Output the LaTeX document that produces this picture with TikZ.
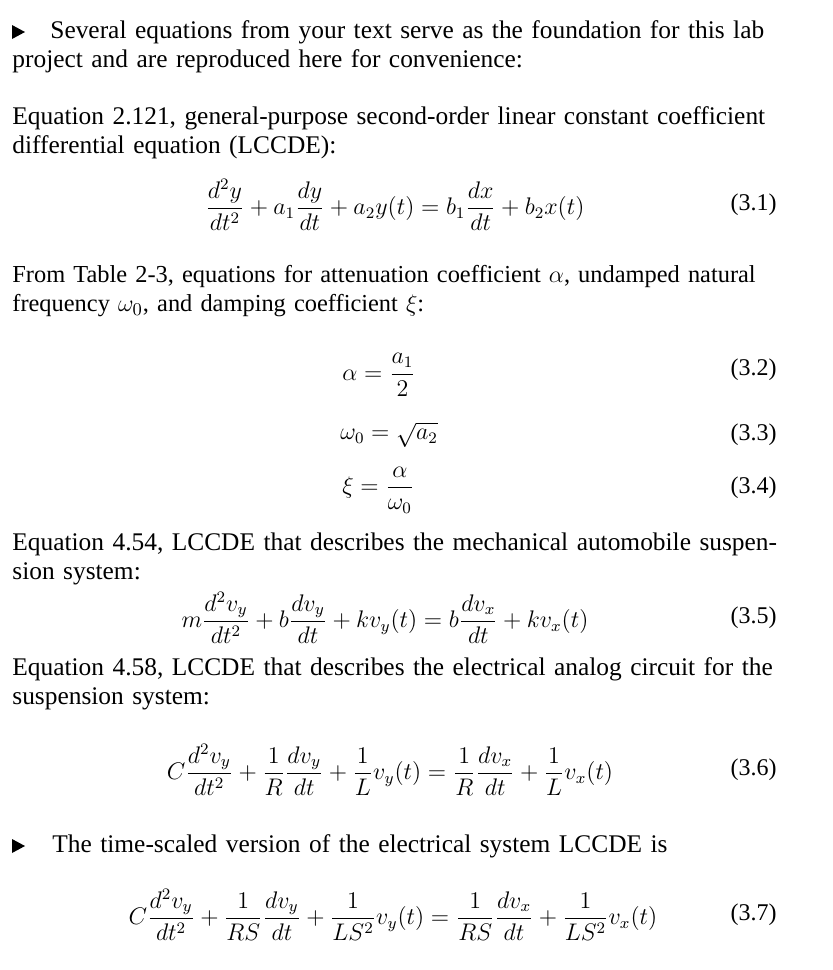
\documentclass[tikz,border=0pt]{standalone}
\usepackage{amsmath}
\usepackage{fontspec}
\setmainfont{Liberation Serif}
\begin{document}
\begin{tikzpicture}[x=0.5pt,y=-0.5pt,
  para/.style={anchor=north west,inner sep=0pt,text width=382.5pt,font=\fontsize{12.7}{14.6}\selectfont},
  eq/.style={inner sep=0pt,font=\fontsize{12}{14.6}\selectfont},
  tag/.style={anchor=east,inner sep=0pt,font=\fontsize{12}{14.6}\selectfont},
  bullet/.style={fill=black}]
\useasboundingbox (0,0) rectangle (833,970);
\fill[bullet] (12,25) -- (25,32) -- (12,39) -- cycle;
\node[para] (p1) at (12,20) {\hspace*{19pt}Several equations from your text serve as the foundation for this lab\linebreak project and are reproduced here for convenience:};
\node[para] (p2) at (12,106) {Equation 2.121, general-purpose second-order linear constant coefficient\linebreak differential equation (LCCDE):};
\node[eq] (e1) at (395,205) {$\dfrac{d^2y}{dt^2}+a_1\dfrac{dy}{dt}+a_2y(t)=b_1\dfrac{dx}{dt}+b_2x(t)$};
\node[tag] (t1) at (777,205) {(3.1)};
\node[para,font=\fontsize{12.2}{14.6}\selectfont] (p3) at (12,265) {From Table 2-3, equations for attenuation coefficient $\alpha$, undamped natural\linebreak frequency $\omega_0$, and damping coefficient $\xi$:};
\node[eq,anchor=west] (e2) at (342,375) {$\alpha=\dfrac{a_1}{2}$};
\node[tag] (t2) at (777,370) {(3.2)};
\node[eq,anchor=west] (e3) at (340,435) {$\omega_0=\sqrt{a_2}$};
\node[tag] (t3) at (777,435) {(3.3)};
\node[eq,anchor=west] (e4) at (342,490) {$\xi=\dfrac{\alpha}{\omega_0}$};
\node[tag] (t4) at (777,488) {(3.4)};
\node[para] (p4) at (12,532) {Equation 4.54, LCCDE that describes the mechanical automobile suspen-\linebreak sion system:};
\node[eq] (e5) at (385,618) {$m\dfrac{d^2v_y}{dt^2}+b\dfrac{dv_y}{dt}+kv_y(t)=b\dfrac{dv_x}{dt}+kv_x(t)$};
\node[tag] (t5) at (777,618) {(3.5)};
\node[para] (p5) at (12,657) {Equation 4.58, LCCDE that describes the electrical analog circuit for the\linebreak suspension system:};
\node[eq] (e6) at (390,770) {$C\dfrac{d^2v_y}{dt^2}+\dfrac{1}{R}\dfrac{dv_y}{dt}+\dfrac{1}{L}v_y(t)=\dfrac{1}{R}\dfrac{dv_x}{dt}+\dfrac{1}{L}v_x(t)$};
\node[tag] (t6) at (777,770) {(3.6)};
\fill[bullet] (12,839) -- (25,846) -- (12,853) -- cycle;
\node[para] (p6) at (12,834) {\hspace*{20pt}The time-scaled version of the electrical system LCCDE is};
\node[eq] (e7) at (393,915) {$C\dfrac{d^2v_y}{dt^2}+\dfrac{1}{RS}\dfrac{dv_y}{dt}+\dfrac{1}{LS^2}v_y(t)=\dfrac{1}{RS}\dfrac{dv_x}{dt}+\dfrac{1}{LS^2}v_x(t)$};
\node[tag] (t7) at (777,915) {(3.7)};
\end{tikzpicture}
\end{document}
